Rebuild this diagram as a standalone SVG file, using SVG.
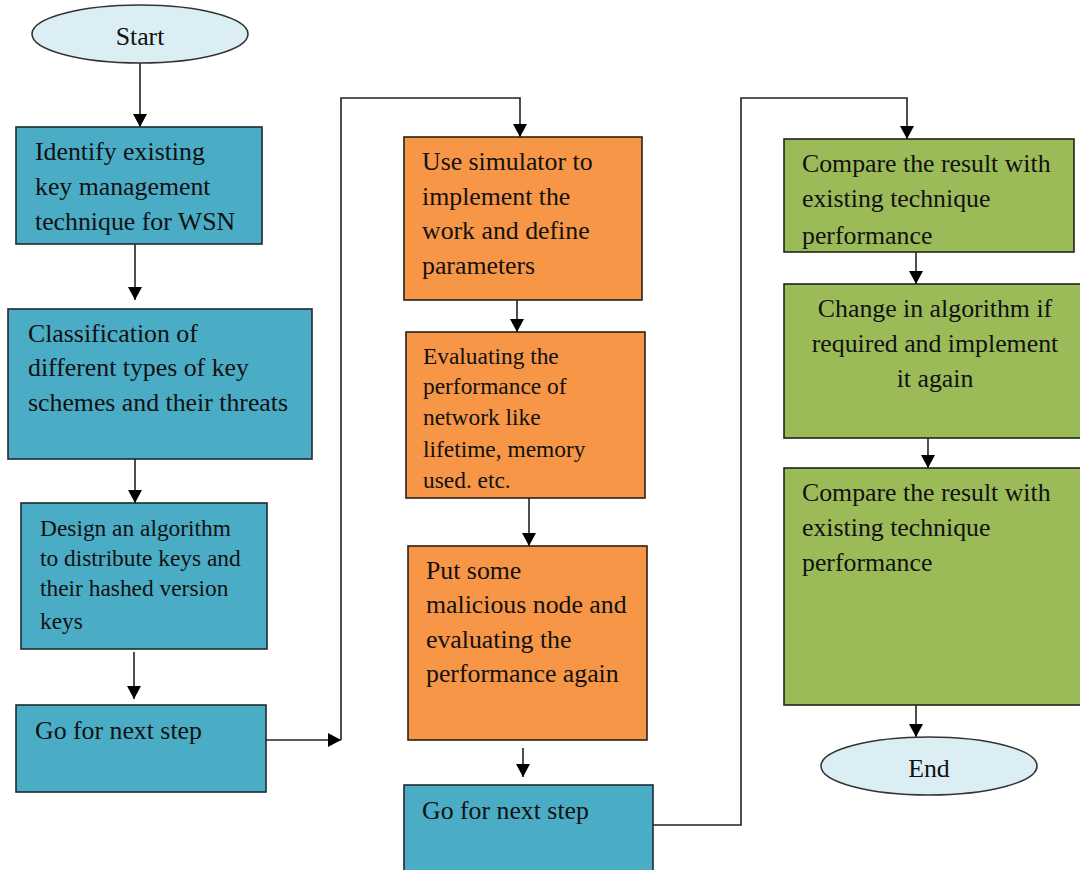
<svg xmlns="http://www.w3.org/2000/svg" width="1080" height="870" viewBox="0 0 1080 870">
<style>
.blue{fill:#4BACC6;stroke:#1f2a2e;stroke-width:1.6}
.orange{fill:#F79646;stroke:#2a2118;stroke-width:1.6}
.green{fill:#9BBB59;stroke:#1f2618;stroke-width:1.6}
.oval{fill:#DAEEF3;stroke:#333;stroke-width:1.6}
.t{font-family:"Liberation Serif","Times New Roman",serif;font-size:25.8px;fill:#111}
.s{font-family:"Liberation Serif","Times New Roman",serif;font-size:23.4px;fill:#111}
.c{text-anchor:middle}
.ln{fill:none;stroke:#222;stroke-width:1.6}
</style>
<defs>
<marker id="ah" viewBox="0 0 13 14" refX="13" refY="7" markerWidth="13" markerHeight="14" markerUnits="userSpaceOnUse" orient="auto">
<path d="M0,0 L13,7 L0,14 Z" fill="#000"/>
</marker>
<clipPath id="cg1"><rect x="784" y="139" width="290" height="112"/></clipPath>
</defs>
<rect width="1080" height="870" fill="#fff"/>

<g id="connectors">
<path class="ln" d="M140,63 V127" marker-end="url(#ah)"/>
<path class="ln" d="M135,244 V300" marker-end="url(#ah)"/>
<path class="ln" d="M135,459 V503" marker-end="url(#ah)"/>
<path class="ln" d="M134,652 V699" marker-end="url(#ah)"/>
<path class="ln" d="M266,740 H341" marker-end="url(#ah)"/>
<path class="ln" d="M341,740 V98 H520 V137" marker-end="url(#ah)"/>
<path class="ln" d="M517,300 V332" marker-end="url(#ah)"/>
<path class="ln" d="M529,498 V546" marker-end="url(#ah)"/>
<path class="ln" d="M523,748 V777" marker-end="url(#ah)"/>
<path class="ln" d="M653,825 H741 V98 H907 V139" marker-end="url(#ah)"/>
<path class="ln" d="M916,252 V284" marker-end="url(#ah)"/>
<path class="ln" d="M928,438 V468" marker-end="url(#ah)"/>
<path class="ln" d="M916,705 V737" marker-end="url(#ah)"/>
</g>

<g id="start">
<ellipse class="oval" cx="140" cy="34" rx="108" ry="29"/>
<text class="t c" x="140" y="45">Start</text>
</g>

<g id="identify">
<rect class="blue" x="16" y="127" width="246" height="117"/>
<text class="t" x="35" y="160">Identify existing</text>
<text class="t" x="35" y="195">key management</text>
<text class="t" x="35" y="230">technique for WSN</text>
</g>

<g id="classification">
<rect class="blue" x="8" y="309" width="304" height="150"/>
<text class="t" x="28" y="342">Classification of</text>
<text class="t" x="28" y="376">different types of key</text>
<text class="t" x="28" y="411">schemes and their threats</text>
</g>

<g id="design">
<rect class="blue" x="21" y="503" width="246" height="146"/>
<text class="s" x="40" y="536">Design an algorithm</text>
<text class="s" x="40" y="566">to distribute keys and</text>
<text class="s" x="40" y="596">their hashed version</text>
<text class="s" x="40" y="629">keys</text>
</g>

<g id="next1">
<rect class="blue" x="16" y="705" width="250" height="87"/>
<text class="t" x="35" y="739">Go for next step</text>
</g>

<g id="simulator">
<rect class="orange" x="404" y="137" width="238" height="163"/>
<text class="t" x="422" y="170">Use simulator to</text>
<text class="t" x="422" y="205">implement the</text>
<text class="t" x="422" y="239">work and define</text>
<text class="t" x="422" y="274">parameters</text>
</g>

<g id="evaluating">
<rect class="orange" x="406" y="332" width="239" height="166"/>
<text class="s" x="423" y="364">Evaluating the</text>
<text class="s" x="423" y="394">performance of</text>
<text class="s" x="423" y="425">network like</text>
<text class="s" x="423" y="457">lifetime, memory</text>
<text class="s" x="423" y="488">used. etc.</text>
</g>

<g id="malicious">
<rect class="orange" x="408" y="546" width="239" height="194"/>
<text class="t" x="426" y="579">Put some</text>
<text class="t" x="426" y="613">malicious node and</text>
<text class="t" x="426" y="648">evaluating the</text>
<text class="t" x="426" y="682">performance again</text>
</g>

<g id="next2">
<rect class="blue" x="404" y="785" width="249" height="100"/>
<text class="t" x="422" y="819">Go for next step</text>
</g>

<g id="compare1">
<rect class="green" x="784" y="139" width="290" height="113"/>
<g clip-path="url(#cg1)">
<text class="t" x="802" y="172">Compare the result with</text>
<text class="t" x="802" y="207">existing technique</text>
<text class="t" x="802" y="244">performance</text>
</g>
</g>

<g id="change">
<rect class="green" x="784" y="284" width="302" height="154"/>
<text class="t c" x="935" y="317">Change in algorithm if</text>
<text class="t c" x="935" y="352">required and implement</text>
<text class="t c" x="935" y="387">it again</text>
</g>

<g id="compare2">
<rect class="green" x="784" y="468" width="302" height="237"/>
<text class="t" x="802" y="501">Compare the result with</text>
<text class="t" x="802" y="536">existing technique</text>
<text class="t" x="802" y="571">performance</text>
</g>

<g id="end">
<ellipse class="oval" cx="929" cy="766" rx="108" ry="29"/>
<text class="t c" x="929" y="777">End</text>
</g>
</svg>
